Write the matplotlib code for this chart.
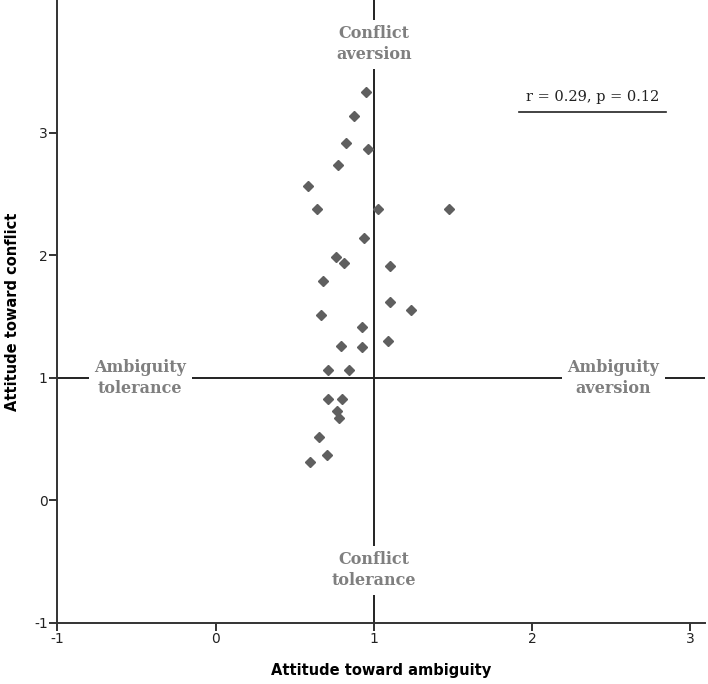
import matplotlib.pyplot as plt

# attitude scores (x = ambiguity, y = conflict)
ambiguity = [0.953, 0.874, 0.823, 0.964, 0.774, 0.587, 0.643, 1.025, 1.476, 0.941,
             0.760, 0.810, 1.101, 0.681, 1.103, 1.236, 0.667, 0.924, 0.793, 0.926,
             1.088, 0.709, 0.846, 0.713, 0.800, 0.770, 0.779, 0.656, 0.707, 0.595]
conflict = [3.334, 3.136, 2.917, 2.871, 2.740, 2.566, 2.381, 2.381, 2.381, 2.141,
            1.984, 1.940, 1.913, 1.790, 1.621, 1.556, 1.512, 1.412, 1.261, 1.248,
            1.302, 1.060, 1.060, 0.824, 0.828, 0.728, 0.671, 0.516, 0.371, 0.309]
ticks = [-1, 0, 1, 2, 3]
stats_text = 'r = 0.29, p = 0.12'

plt.rcParams['axes.unicode_minus'] = False

fig = plt.figure(figsize=(7.08, 6.84), dpi=100)
ax = fig.add_axes([0.081, 0.0896, 0.915, 0.9104])

# reference lines through the neutral point (1, 1)
ax.axhline(1, color='#222222', lw=1.4, zorder=1)
ax.axvline(1, color='#222222', lw=1.4, zorder=1)

ax.plot(ambiguity, conflict, 'D', ms=5.0, color='#5f5f5f', mec='#5f5f5f', zorder=3)

lab = dict(ha='center', va='center', fontsize=11.5, fontweight='bold',
           family='DejaVu Serif', color='#7f7f7f', linespacing=1.3, zorder=2,
           bbox=dict(boxstyle='square,pad=0.35', fc='white', ec='none'))
ax.text(1, 3.726, 'Conflict\naversion', **lab)
ax.text(1, -0.571, 'Conflict\ntolerance', **lab)
ax.text(-0.477, 1.0, 'Ambiguity\ntolerance', **lab)
ax.text(2.513, 1.0, 'Ambiguity\naversion', **lab)

ax.text(2.383, 3.293, stats_text, ha='center', va='center', fontsize=10.5,
        family='DejaVu Serif', color='#222222')
ax.plot([1.918, 2.848], [3.171, 3.171], color='#222222', lw=1.2)

ax.set_xlim(-1, 3.094)
ax.set_ylim(-1, 4.086)
ax.set_xticks(ticks)
ax.set_yticks(ticks)
for s in ['top', 'right']:
    ax.spines[s].set_visible(False)
for s in ['left', 'bottom']:
    ax.spines[s].set_linewidth(1.4)
    ax.spines[s].set_color('#333333')
ax.tick_params(length=6, width=1.4, color='#333333', labelsize=10, labelcolor='#222222', pad=1)

ax.set_xlabel('Attitude toward ambiguity', fontsize=10.5, fontweight='bold', labelpad=12)
ax.set_ylabel('Attitude toward conflict', fontsize=10.5, fontweight='bold', labelpad=10)

fig.savefig('out.png', dpi=100)
